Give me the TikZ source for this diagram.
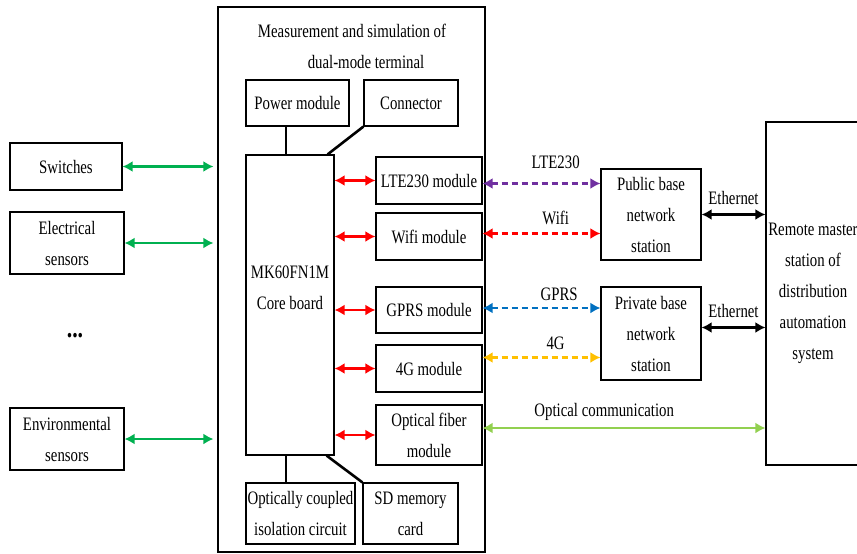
\documentclass[tikz,border=0pt]{standalone}
\usepackage{fontspec}
\setmainfont[FakeStretch=0.78]{Liberation Serif}
\usetikzlibrary{arrows.meta}

\definecolor{verde}{RGB}{0,176,80}
\definecolor{verdeclaro}{RGB}{146,208,80}
\definecolor{morado}{RGB}{112,48,160}
\definecolor{azul}{RGB}{0,112,192}
\definecolor{naranja}{RGB}{255,192,0}

\begin{document}
\begin{tikzpicture}[x=1pt, y=-1pt,
    every node/.style={font=\fontsize{19}{31}\selectfont},
    caja/.style={draw, line width=1.2pt, align=center, inner sep=0pt},
    union/.style={line width=2.6pt},
    flecha/.style={line width=2.3pt, {Latex[length=10pt,width=11pt]}-{Latex[length=10pt,width=11pt]}},
    enlace/.style={flecha, dash pattern=on 6pt off 4pt}]
    \useasboundingbox (0,0) rectangle (857,554);
    % Terminal de doble modo
    \node[caja, minimum width=267pt, minimum height=545pt] (term) at (351.5,279.5) {};
    \node (tit1) at (352,31) {Measurement and simulation of};
    \node (tit2) at (366,62) {dual-mode terminal};
    \node[caja, minimum width=103pt, minimum height=46pt] (power) at (297.5,103) {Power module};
    \node[caja, minimum width=94pt, minimum height=46pt] (conn) at (411,103) {Connector};
    \node[caja, minimum width=88pt, minimum height=300pt] (core) at (290,305) {};
    \node[align=center] (coretxt) at (290,287.5) {MK60FN1M\\Core board};
    % Modulos de comunicacion
    \node[caja, minimum width=106pt, minimum height=47pt] (lte) at (429,180.5) {LTE230 module};
    \node[caja, minimum width=106pt, minimum height=47pt] (wifi) at (429,236.5) {Wifi module};
    \node[caja, minimum width=106pt, minimum height=46pt] (gprs) at (429,310) {GPRS module};
    \node[caja, minimum width=106pt, minimum height=47pt] (g4) at (429,368.5) {4G module};
    \node[caja, minimum width=106pt, minimum height=60pt] (fiber) at (429,435) {Optical fiber\\module};
    \node[caja, minimum width=109pt, minimum height=61pt] (opto) at (300.5,513.5) {Optically coupled\\isolation circuit};
    \node[caja, minimum width=95pt, minimum height=61pt] (sd) at (410.5,513.5) {SD memory\\card};
    % Sensores e interruptores
    \node[caja, minimum width=112pt, minimum height=47pt] (sw) at (66,166.5) {Switches};
    \node[caja, minimum width=114pt, minimum height=62pt] (elec) at (67,243) {Electrical\\sensors};
    \node[font=\fontsize{28}{28}\selectfont] (dots) at (75,336) {\textbf{...}};
    \node[caja, minimum width=114pt, minimum height=62pt] (env) at (67,439) {Environmental\\sensors};
    % Estaciones base y estacion maestra
    \node[caja, minimum width=100pt, minimum height=91pt] (pub) at (651,214.5) {Public base\\network\\station};
    \node[caja, minimum width=100pt, minimum height=93pt] (priv) at (651,333.5) {Private base\\network\\station};
    \node[caja, minimum width=94pt, minimum height=343pt] (remote) at (813,293.5) {Remote master\\station of\\distribution\\automation\\system};

    % Lineas internas
    \draw[union] ([xshift=-4pt]core.north) -- ([xshift=-4pt]core.north |- power.south);
    \draw[union] ([xshift=-7pt]core.north east) -- (conn.south west);
    \draw[union] ([xshift=-4pt]core.south) -- ([xshift=-4pt]core.south |- opto.north);
    \draw[union] ([xshift=-8pt]core.south east) -- (sd.north west);
    \foreach \m in {lte,wifi,gprs,g4,fiber}
        \draw[flecha, red] (core.east |- \m) -- (\m.west);
    \foreach \s in {sw,elec,env}
        \draw[flecha, verde, shorten >=4pt] (\s.east) -- (\s.east -| term.west);

    % Enlaces inalambricos
    \draw[enlace, morado] ([yshift=-3pt]lte.east) -- ([yshift=-3pt]lte.east -| pub.west)
        node[pos=0.62, above=10pt, black] {LTE230};
    \draw[enlace, red] ([yshift=3pt]wifi.east) -- ([yshift=3pt]wifi.east -| pub.west)
        node[pos=0.62, above=4pt, black] {Wifi};
    \draw[enlace, azul] ([yshift=2pt]gprs.east) -- ([yshift=2pt]gprs.east -| priv.west)
        node[pos=0.65, above=3pt, black] {GPRS};
    \draw[enlace, naranja] ([yshift=11pt]g4.east) -- ([yshift=11pt]g4.east -| priv.west)
        node[pos=0.62, above=3pt, black] {4G};
    % Ethernet y fibra optica
    \draw[flecha, black] (pub.east) -- (pub.east -| remote.west)
        node[midway, above=5pt] {Ethernet};
    \draw[flecha, black] ([yshift=6pt]priv.east) -- ([yshift=6pt]priv.east -| remote.west)
        node[midway, above=5pt] {Ethernet};
    \draw[flecha, verdeclaro] ([yshift=7pt]fiber.east) -- ([yshift=7pt]fiber.east -| remote.west)
        node[pos=0.43, above=3pt, black] {Optical communication};
\end{tikzpicture}
\end{document}
